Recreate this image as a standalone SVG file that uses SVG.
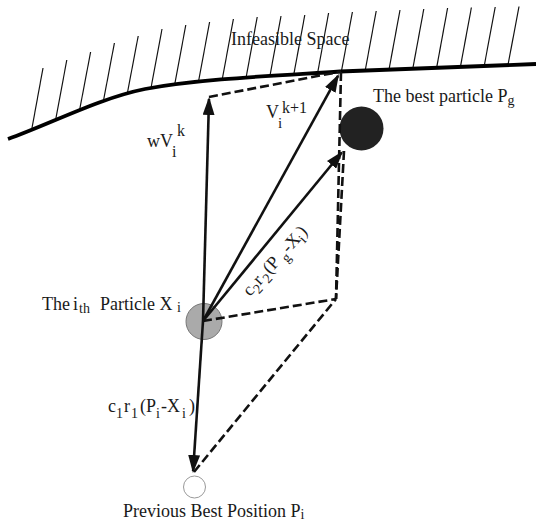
<svg xmlns="http://www.w3.org/2000/svg" width="536" height="523" viewBox="0 0 536 523">
<style>
  text { font-family: "Liberation Serif", "Times New Roman", serif; fill: #1a1a1a; font-size: 18px; }
  .sub { font-size: 14px; }
  .hatch line { stroke: #111; stroke-width: 1.2; }
  .vec { stroke: #111; stroke-width: 2.6; fill: none; marker-end: url(#ah); }
  .dash { stroke: #111; stroke-width: 2.6; fill: none; stroke-dasharray: 9 4; }
</style>
<defs>
  <marker id="ah" markerUnits="userSpaceOnUse" markerWidth="18" markerHeight="12" viewBox="0 0 18 12" refX="16" refY="6" orient="auto">
    <path d="M0,0 L18,6 L0,12 z" fill="#111"/>
  </marker>
</defs>
<rect width="536" height="523" fill="#fff"/>

<g id="boundary">
  <g class="hatch">
    <line x1="32" y1="128" x2="43" y2="68"/>
    <line x1="55.8" y1="119" x2="66.8" y2="60"/>
    <line x1="79.6" y1="110" x2="90.6" y2="52"/>
    <line x1="103.4" y1="101" x2="114.4" y2="43"/>
    <line x1="127.2" y1="94" x2="138.2" y2="36"/>
    <line x1="151" y1="88" x2="162" y2="29"/>
    <line x1="174.8" y1="84" x2="185.8" y2="25"/>
    <line x1="198.6" y1="81" x2="209.6" y2="22"/>
    <line x1="222.4" y1="78.5" x2="233.4" y2="19"/>
    <line x1="246.2" y1="77" x2="257.2" y2="17"/>
    <line x1="270" y1="75.5" x2="281" y2="16"/>
    <line x1="293.8" y1="74.3" x2="304.8" y2="15"/>
    <line x1="317.6" y1="73" x2="328.6" y2="13"/>
    <line x1="341.4" y1="71.5" x2="352.4" y2="12"/>
    <line x1="365.2" y1="70.5" x2="376.2" y2="11"/>
    <line x1="389" y1="69.6" x2="400" y2="10"/>
    <line x1="412.8" y1="68.7" x2="423.8" y2="9"/>
    <line x1="436.6" y1="67.8" x2="447.6" y2="8"/>
    <line x1="460.4" y1="66.9" x2="471.4" y2="7.5"/>
    <line x1="484.2" y1="66" x2="495.2" y2="7"/>
    <line x1="508" y1="65" x2="519" y2="6.5"/>
  </g>
  <path d="M 8,139 C 50,124 100,98 145,89 C 200,79 270,76 340,71.5 L 536,64" stroke="#000" stroke-width="3.8" fill="none"/>
  <text x="231" y="45">Infeasible Space</text>
</g>

<g id="particle-x">
  <circle cx="204" cy="321.5" r="18" fill="#aaaaaa" stroke="#777" stroke-width="1"/>
  <text x="42" y="310">The<tspan x="73" y="310">i</tspan><tspan class="sub" x="79" y="313">th</tspan><tspan x="100" y="310">Particle X</tspan><tspan class="sub" x="177" y="312">i</tspan></text>
</g>

<g id="best-particle">
  <circle cx="361.5" cy="128.5" r="22" fill="#222"/>
  <text x="373" y="102">The best particle P<tspan class="sub" dy="3">g</tspan></text>
</g>

<g id="previous-best">
  <circle cx="194.5" cy="487" r="11" fill="#fff" stroke="#999" stroke-width="1"/>
  <text x="123" y="517">Previous Best Position P<tspan class="sub" dy="2">i</tspan></text>
</g>

<g id="connectors">
  <line class="dash" x1="209" y1="97" x2="341" y2="71.5"/>
  <line class="dash" x1="341" y1="72" x2="336" y2="299"/>
  <line class="dash" x1="344" y1="151" x2="336" y2="299"/>
  <line class="dash" x1="203" y1="321" x2="336" y2="299"/>
  <line class="dash" x1="194" y1="472" x2="336" y2="299"/>
  <line class="vec" x1="203" y1="321" x2="209" y2="99"/>
  <line class="vec" x1="203" y1="321" x2="338" y2="75.8"/>
  <line class="vec" x1="203" y1="321" x2="341.7" y2="152.5"/>
  <line class="vec" x1="203" y1="321" x2="193.1" y2="471"/>
</g>

<g id="labels">
  <text x="147" y="147">wV</text>
  <text class="sub" x="177" y="136" style="font-size:16px">k</text>
  <text class="sub" x="172" y="157" style="font-size:16px">i</text>

  <text x="266" y="118">V</text>
  <text class="sub" x="278" y="128" style="font-size:15px">i</text>
  <text class="sub" x="282" y="113" style="font-size:16px">k+1</text>

  <text x="108" y="412">c<tspan class="sub" x="116" y="418">1</tspan><tspan x="124" y="412">r</tspan><tspan class="sub" x="131" y="418">1</tspan><tspan x="140" y="412">(P</tspan><tspan class="sub" x="156" y="418">i</tspan><tspan x="161" y="412">-X</tspan><tspan class="sub" x="182" y="418">i</tspan><tspan x="189" y="412">)</tspan></text>

  <text transform="translate(250,297) rotate(-48)" x="0" y="0">c<tspan class="sub" x="8" y="5">2</tspan><tspan x="15" y="0">r</tspan><tspan class="sub" x="22" y="5">2</tspan><tspan x="30" y="0">(P</tspan><tspan class="sub" x="50" y="5">g</tspan><tspan x="58" y="0">-X</tspan><tspan class="sub" x="76" y="5">i</tspan><tspan x="81" y="0">)</tspan></text>
</g>
</svg>
